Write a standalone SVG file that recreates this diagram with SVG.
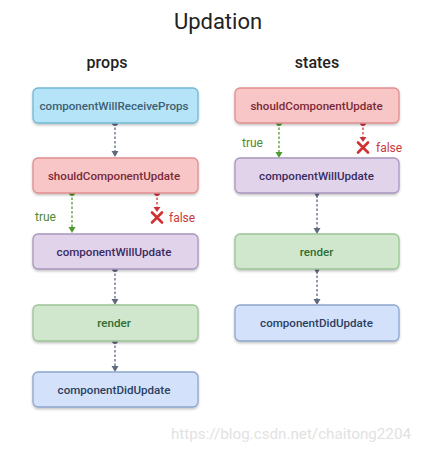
<svg xmlns="http://www.w3.org/2000/svg" width="421" height="453" viewBox="0 0 421 453">
<defs>
<filter id="sh" x="-10%" y="-20%" width="120%" height="160%"><feDropShadow dx="0" dy="1.5" stdDeviation="1" flood-color="#000" flood-opacity="0.25"/></filter>
</defs>
<style>
text{font-family:Roboto,"Noto Sans","Liberation Sans",sans-serif}
.box{stroke-width:1.3;filter:url(#sh)}
.lbl{font-size:11.6px;font-weight:500;text-anchor:middle}
.hdr{font-size:16px;font-weight:500;fill:#222;text-anchor:middle}
.c{stroke-width:1.3;stroke-dasharray:2.5 2;fill:none}
.gray{stroke:#5f6a80}
.grn{stroke:#4f9a2e}
.red{stroke:#d03a3a}
.tf{font-size:12px;font-weight:400}
</style>
<rect width="421" height="453" fill="#ffffff"/>
<text x="218" y="29" font-size="22" fill="#222" text-anchor="middle" font-weight="400">Updation</text>
<text class="hdr" x="107" y="68">props</text>
<text class="hdr" x="317" y="68">states</text>

<g id="connectors">
<line class="c gray" x1="115" y1="123" x2="115" y2="151"/>
<circle cx="115" cy="123" r="3" fill="#5f6a80"/>
<path d="M111.5,151 L118.5,151 L115,157 Z" fill="#5f6a80"/>

<line class="c grn" x1="72" y1="193" x2="72" y2="227"/>
<circle cx="72" cy="193" r="3" fill="#4f9a2e"/>
<path d="M68.5,227 L75.5,227 L72,233 Z" fill="#4f9a2e"/>
<line class="c red" x1="157" y1="193" x2="157" y2="207"/>
<circle cx="157" cy="193" r="3" fill="#c8323a"/>
<path d="M153.5,207 L160.5,207 L157,212 Z" fill="#c8323a"/>
<path d="M152,212.5 L162,222.5 M162,212.5 L152,222.5" stroke="#d03030" stroke-width="2.6" stroke-linecap="round"/>
<text class="tf" x="35" y="221" fill="#4f8a2e">true</text>
<text class="tf" x="169" y="222" fill="#c83a3a">false</text>

<line class="c gray" x1="115" y1="269" x2="115" y2="299"/>
<circle cx="115" cy="269" r="3" fill="#5f6a80"/>
<path d="M111.5,299 L118.5,299 L115,305 Z" fill="#5f6a80"/>

<line class="c gray" x1="115" y1="341" x2="115" y2="366"/>
<circle cx="115" cy="341" r="3" fill="#5f6a80"/>
<path d="M111.5,366 L118.5,366 L115,372 Z" fill="#5f6a80"/>

<line class="c grn" x1="279" y1="123" x2="279" y2="152"/>
<circle cx="279" cy="123" r="3" fill="#4f9a2e"/>
<path d="M275.5,152 L282.5,152 L279,158 Z" fill="#4f9a2e"/>
<line class="c red" x1="363" y1="123" x2="363" y2="137"/>
<circle cx="363" cy="123" r="3" fill="#c8323a"/>
<path d="M359.5,137 L366.5,137 L363,142 Z" fill="#c8323a"/>
<path d="M358,142.5 L368,152.5 M368,142.5 L358,152.5" stroke="#d03030" stroke-width="2.6" stroke-linecap="round"/>
<text class="tf" x="242" y="147" fill="#4f8a2e">true</text>
<text class="tf" x="376" y="152" fill="#c83a3a">false</text>

<line class="c gray" x1="317" y1="195" x2="317" y2="228"/>
<path d="M314,193 L320,193 L317,198 Z" fill="#5f6a80"/>
<path d="M313.5,228 L320.5,228 L317,234 Z" fill="#5f6a80"/>

<line class="c gray" x1="317" y1="271" x2="317" y2="299"/>
<path d="M314,269 L320,269 L317,274 Z" fill="#5f6a80"/>
<path d="M313.5,299 L320.5,299 L317,305 Z" fill="#5f6a80"/>
</g>

<g id="props-cwrp"><rect class="box" x="33" y="88" width="165" height="35" rx="5" fill="#b5e3f7" stroke="#72b9d3"/><text class="lbl" x="114" y="110" fill="#3d5f72">componentWillReceiveProps</text></g>
<g id="props-scu"><rect class="box" x="33" y="158" width="165" height="35" rx="5" fill="#f8c6c6" stroke="#e08e8e"/><text class="lbl" x="114" y="180" fill="#7a2a38">shouldComponentUpdate</text></g>
<g id="props-cwu"><rect class="box" x="33" y="234" width="165" height="35" rx="5" fill="#e1d4ea" stroke="#a995bd"/><text class="lbl" x="114" y="256" fill="#3b2a62">componentWillUpdate</text></g>
<g id="props-render"><rect class="box" x="33" y="305" width="165" height="36" rx="5" fill="#d0e7cd" stroke="#9cc496"/><text class="lbl" x="114" y="327" fill="#2f6e34">render</text></g>
<g id="props-cdu"><rect class="box" x="33" y="372" width="165" height="35" rx="5" fill="#d3e2fa" stroke="#8ea6cc"/><text class="lbl" x="114" y="394" fill="#2c3f62">componentDidUpdate</text></g>

<g id="states-scu"><rect class="box" x="235" y="88" width="164" height="35" rx="5" fill="#f8c6c6" stroke="#e08e8e"/><text class="lbl" x="316.5" y="110" fill="#7a2a38">shouldComponentUpdate</text></g>
<g id="states-cwu"><rect class="box" x="235" y="158" width="164" height="35" rx="5" fill="#e1d4ea" stroke="#a995bd"/><text class="lbl" x="316.5" y="180" fill="#3b2a62">componentWillUpdate</text></g>
<g id="states-render"><rect class="box" x="235" y="234" width="164" height="35" rx="5" fill="#d0e7cd" stroke="#9cc496"/><text class="lbl" x="316.5" y="256" fill="#2f6e34">render</text></g>
<g id="states-cdu"><rect class="box" x="235" y="305" width="164" height="36" rx="5" fill="#d3e2fa" stroke="#8ea6cc"/><text class="lbl" x="316.5" y="327" fill="#2c3f62">componentDidUpdate</text></g>

<text x="171" y="439" font-family="'Liberation Sans',Arial,sans-serif" font-size="15" fill="#e2e2e2" textLength="240" lengthAdjust="spacingAndGlyphs">https://blog.csdn.net/chaitong2204</text>
</svg>
